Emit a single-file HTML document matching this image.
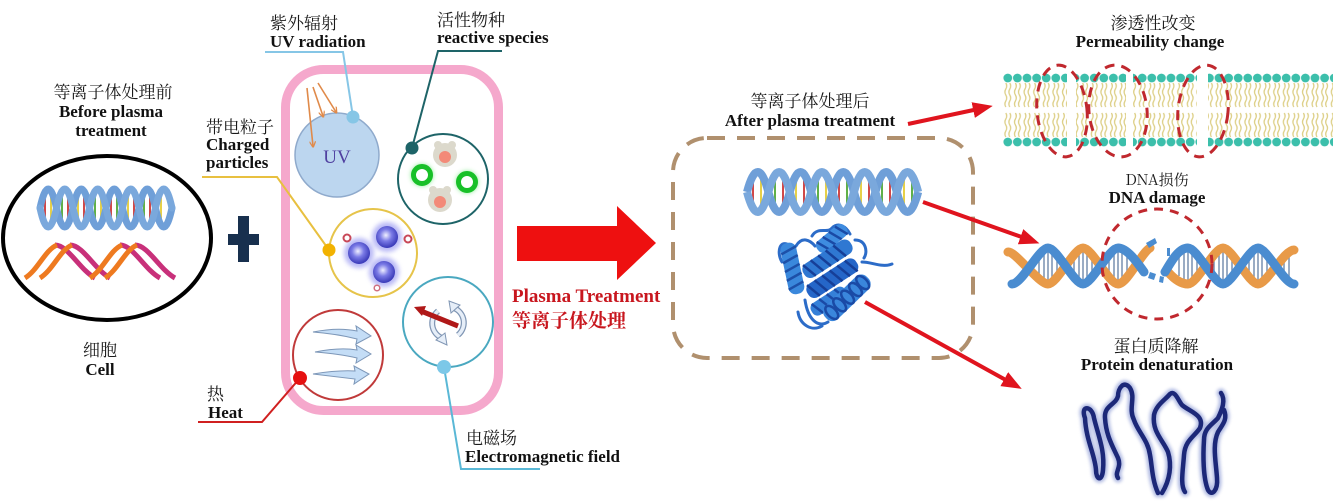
<!DOCTYPE html>
<html><head><meta charset="utf-8">
<style>
html,body{margin:0;padding:0;background:#fff;}
svg{display:block}
.cn{font-family:"Liberation Serif","Noto Serif CJK SC",serif;font-size:17px;fill:#1a1a1a}
.en{font-family:"Liberation Serif","Noto Serif CJK SC",serif;font-size:17px;font-weight:bold;fill:#111}
.red{fill:#c8161e}
</style></head><body>
<svg width="1333" height="504" viewBox="0 0 1333 504" xmlns="http://www.w3.org/2000/svg">
<defs>
 <radialGradient id="sph" cx="0.45" cy="0.42" r="0.6">
   <stop offset="0" stop-color="#f0f0ff"/>
   <stop offset="0.45" stop-color="#7a7ae6"/>
   <stop offset="1" stop-color="#3434b4"/>
 </radialGradient>
 <filter id="blur2" x="-50%" y="-50%" width="200%" height="200%"><feGaussianBlur stdDeviation="2.5"/></filter>
 <filter id="blur1" x="-20%" y="-20%" width="140%" height="140%"><feGaussianBlur stdDeviation="1.5"/></filter>
 <pattern id="mem" patternUnits="userSpaceOnUse" x="1003" y="70" width="9.6" height="80">
   <path d="M2.8,13 q1.8,3 0,6 t0,6 t0,6 t0,6 M6.8,13 q1.8,3 0,6 t0,6 t0,6 t0,6 M2.8,43 q1.8,3 0,6 t0,6 t0,6 t0,6 M6.8,43 q1.8,3 0,6 t0,6 t0,6 t0,6" stroke="#ddcf86" fill="none" stroke-width="1.3"/>
   <circle cx="4.8" cy="8" r="4.4" fill="#3cbfab"/>
   <circle cx="4.8" cy="72" r="4.4" fill="#3cbfab"/>
 </pattern>
 <marker id="ah" markerWidth="5" markerHeight="4" refX="2.5" refY="2" orient="auto" markerUnits="strokeWidth">
   <path d="M0,0 L5,2 L0,4z" fill="#e0141e"/>
 </marker>
 <marker id="oh" markerWidth="4" markerHeight="4" refX="3" refY="2" orient="auto" markerUnits="strokeWidth">
   <path d="M0,0 L4,2 L0,4" fill="none" stroke="#e08a4a" stroke-width="0.8"/>
 </marker>
</defs>

<!-- ===== LEFT: cell ===== -->
<text class="cn" x="113" y="98" text-anchor="middle">等离子体处理前</text>
<text class="en" x="111" y="117" text-anchor="middle">Before plasma</text>
<text class="en" x="111" y="136" text-anchor="middle">treatment</text>

<ellipse cx="107" cy="238" rx="104" ry="82" fill="#fff" stroke="#000" stroke-width="4"/>

<!-- blue helix -->
<g fill="none" stroke-linecap="round">
  <g stroke-width="2">
    <line x1="45" y1="198" x2="45" y2="218" stroke="#d04848"/>
    <line x1="51" y1="193" x2="51" y2="223" stroke="#e6d048"/>
    <line x1="62" y1="193" x2="62" y2="223" stroke="#60b048"/>
    <line x1="68" y1="198" x2="68" y2="218" stroke="#d04848"/>
    <line x1="78" y1="198" x2="78" y2="218" stroke="#e6d048"/>
    <line x1="84" y1="193" x2="84" y2="223" stroke="#d04848"/>
    <line x1="95" y1="193" x2="95" y2="223" stroke="#60b048"/>
    <line x1="101" y1="198" x2="101" y2="218" stroke="#e6d048"/>
    <line x1="111" y1="198" x2="111" y2="218" stroke="#d04848"/>
    <line x1="117" y1="193" x2="117" y2="223" stroke="#60b048"/>
    <line x1="128" y1="193" x2="128" y2="223" stroke="#e6d048"/>
    <line x1="134" y1="198" x2="134" y2="218" stroke="#d04848"/>
    <line x1="144" y1="198" x2="144" y2="218" stroke="#60b048"/>
    <line x1="150" y1="193" x2="150" y2="223" stroke="#d04848"/>
    <line x1="161" y1="193" x2="161" y2="223" stroke="#e6d048"/>
  </g>
  <path d="M40,208 q8.25,-38 16.5,0 t16.5,0 t16.5,0 t16.5,0 t16.5,0 t16.5,0 t16.5,0 t16.5,0" stroke="#6f9fd8" stroke-width="7"/>
  <path d="M40,208 q8.25,38 16.5,0 t16.5,0 t16.5,0 t16.5,0 t16.5,0 t16.5,0 t16.5,0 t16.5,0" stroke="#7aa8dc" stroke-width="7"/>
</g>
<!-- orange / magenta helix -->
<g fill="none" stroke-width="5" stroke-linecap="butt">
  <path d="M55,245 C68,245 80,270 95,278" stroke="#c8307a"/>
  <path d="M70,245 C83,245 95,270 110,278" stroke="#c8307a"/>
  <path d="M120,245 C133,245 145,270 160,278" stroke="#c8307a"/>
  <path d="M135,245 C148,245 160,270 175,278" stroke="#c8307a"/>
  <path d="M25,278 C38,270 45,250 57,245" stroke="#ee7a20"/>
  <path d="M40,278 C53,270 60,250 72,245" stroke="#ee7a20"/>
  <path d="M90,278 C103,270 110,250 122,245" stroke="#ee7a20"/>
  <path d="M105,278 C118,270 125,250 137,245" stroke="#ee7a20"/>
</g>

<text class="cn" x="100" y="356" text-anchor="middle">细胞</text>
<text class="en" x="100" y="375" text-anchor="middle">Cell</text>

<!-- plus -->
<rect x="238" y="216" width="11" height="46" fill="#18304e"/>
<rect x="228" y="234" width="31" height="11" fill="#18304e"/>

<!-- ===== MIDDLE: plasma components ===== -->
<rect x="285.5" y="69.5" width="213" height="341" rx="38" fill="none" stroke="#f5a8cc" stroke-width="9"/>

<!-- UV -->
<circle cx="337" cy="155" r="42" fill="#bcd6ef" stroke="#8faacc" stroke-width="1.5"/>
<text x="337" y="163" text-anchor="middle" font-family="Liberation Serif, serif" font-size="19" fill="#5040a0">UV</text>
<g stroke="#e08a4a" stroke-width="1.6" fill="none">
  <line x1="307" y1="88" x2="313" y2="146" marker-end="url(#oh)"/>
  <line x1="313" y1="87" x2="323" y2="116" marker-end="url(#oh)"/>
  <line x1="318" y1="83" x2="336" y2="112" marker-end="url(#oh)"/>
</g>

<!-- reactive species -->
<circle cx="443" cy="179" r="45" fill="#fff" stroke="#1e6468" stroke-width="2"/>
<g>
  <circle cx="422" cy="175" r="11" fill="#40e050" filter="url(#blur2)" opacity="0.6"/>
  <circle cx="422" cy="175" r="8.5" fill="#fff" stroke="#18c028" stroke-width="5"/>
  <circle cx="467" cy="182" r="11" fill="#40e050" filter="url(#blur2)" opacity="0.6"/>
  <circle cx="467" cy="182" r="8.5" fill="#fff" stroke="#18c028" stroke-width="5"/>
  <circle cx="445" cy="155" r="12" fill="#dcd9cc"/>
  <circle cx="438" cy="145" r="4" fill="#dcd9cc"/><circle cx="452" cy="145" r="4" fill="#dcd9cc"/>
  <circle cx="445" cy="157" r="6" fill="#f38a78"/>
  <circle cx="440" cy="200" r="12" fill="#dcd9cc"/>
  <circle cx="433" cy="190" r="4" fill="#dcd9cc"/><circle cx="447" cy="190" r="4" fill="#dcd9cc"/>
  <circle cx="440" cy="202" r="6" fill="#f38a78"/>
</g>

<!-- charged particles -->
<circle cx="373" cy="253" r="44" fill="#fff" stroke="#e6c44a" stroke-width="2"/>
<g>
  <circle cx="359" cy="253" r="15" fill="#8a8af0" filter="url(#blur2)" opacity="0.6"/>
  <circle cx="387" cy="237" r="15" fill="#8a8af0" filter="url(#blur2)" opacity="0.6"/>
  <circle cx="384" cy="272" r="15" fill="#8a8af0" filter="url(#blur2)" opacity="0.6"/>
  <circle cx="359" cy="253" r="11" fill="url(#sph)"/>
  <circle cx="387" cy="237" r="11" fill="url(#sph)"/>
  <circle cx="384" cy="272" r="11" fill="url(#sph)"/>
  <circle cx="347" cy="238" r="3.5" fill="#fff" stroke="#c84858" stroke-width="2"/>
  <circle cx="408" cy="239" r="3.5" fill="#fff" stroke="#c84858" stroke-width="2"/>
  <circle cx="377" cy="288" r="2.8" fill="#fff" stroke="#d07080" stroke-width="1.5"/>
</g>

<!-- heat -->
<circle cx="338" cy="355" r="45" fill="#fff" stroke="#c03a3a" stroke-width="2"/>
<g fill="#c4ddf6" stroke="#7d97b8" stroke-width="1">
  <path transform="translate(313,332)" d="M0,0 Q25,-5 44,-1 L43,-6 L58,4 L43,12 L44,7 Q25,2 0,0 Z"/>
  <path transform="translate(315,352)" d="M0,0 Q25,-5 42,-2 L41,-7 L56,2 L41,11 L42,6 Q25,2 0,0 Z"/>
  <path transform="translate(313,374)" d="M0,0 Q25,-4 42,-3 L41,-8 L56,0 L41,10 L42,5 Q25,3 0,0 Z"/>
</g>

<!-- electromagnetic -->
<circle cx="448" cy="322" r="45" fill="#fff" stroke="#4aa8c0" stroke-width="2"/>
<g fill="none">
  <path d="M451,307 A16,16 0 0 1 458,335" stroke="#8096b4" stroke-width="6"/>
  <path d="M451,307 A16,16 0 0 1 458,335" stroke="#e6eef8" stroke-width="3.5"/>
  <path d="M445,339 A16,16 0 0 1 438,311" stroke="#8096b4" stroke-width="6"/>
  <path d="M445,339 A16,16 0 0 1 438,311" stroke="#e6eef8" stroke-width="3.5"/>
</g>
<path d="M449,301 L460,305 L451,313 Z" fill="#e6eef8" stroke="#8096b4" stroke-width="1"/>
<path d="M447,345 L436,340 L445,333 Z" fill="#e6eef8" stroke="#8096b4" stroke-width="1"/>
<line x1="421" y1="311" x2="458" y2="326" stroke="#b01818" stroke-width="5"/>
<path d="M414,307 L426,306 L422,316 Z" fill="#b01818"/>

<!-- connectors -->
<polyline points="265,52 343,52 353,117" fill="none" stroke="#86c6e6" stroke-width="2"/>
<circle cx="353" cy="117" r="6.5" fill="#86c6e6"/>
<polyline points="502,51 438,51 412,148" fill="none" stroke="#1e6468" stroke-width="2"/>
<circle cx="412" cy="148" r="6.5" fill="#1e6468"/>
<polyline points="202,177 277,177 329,250" fill="none" stroke="#e8c040" stroke-width="2"/>
<circle cx="329" cy="250" r="6.5" fill="#f2b200"/>
<polyline points="198,422 262,422 300,378" fill="none" stroke="#d02020" stroke-width="2"/>
<circle cx="300" cy="378" r="7" fill="#e61010"/>
<polyline points="444,367 461,469 540,469" fill="none" stroke="#5ab8d6" stroke-width="2"/>
<circle cx="444" cy="367" r="7" fill="#7cc8e8"/>

<!-- labels middle -->
<text class="cn" x="270" y="29">紫外辐射</text>
<text class="en" x="270" y="47">UV radiation</text>
<text class="cn" x="437" y="26">活性物种</text>
<text class="en" x="437" y="43">reactive species</text>
<text class="cn" x="206" y="133">带电粒子</text>
<text class="en" x="206" y="150">Charged</text>
<text class="en" x="206" y="168">particles</text>
<text class="cn" x="207" y="400">热</text>
<text class="en" x="208" y="418">Heat</text>
<text class="cn" x="466" y="444">电磁场</text>
<text class="en" x="465" y="462">Electromagnetic field</text>

<!-- big arrow -->
<polygon points="517,226 617,226 617,206 656,243 617,280 617,261 517,261" fill="#ee1010"/>
<text x="512" y="302" font-family="Liberation Serif, serif" font-size="19" font-weight="bold" class="red">Plasma Treatment</text>
<text x="512" y="327" font-family="Liberation Serif, 'Noto Serif CJK SC', serif" font-size="19" font-weight="bold" class="red">等离子体处理</text>

<!-- ===== AFTER ===== -->
<text class="cn" x="810" y="107" text-anchor="middle">等离子体处理后</text>
<text class="en" x="810" y="126" text-anchor="middle">After plasma treatment</text>
<rect x="673" y="138" width="300" height="220" rx="34" fill="none" stroke="#b0906e" stroke-width="4" stroke-dasharray="18 12"/>

<!-- DNA in box -->
<g fill="none">
  <g stroke-width="2">
    <line x1="753" y1="180" x2="753" y2="204" stroke="#d04848"/>
    <line x1="761" y1="175" x2="761" y2="209" stroke="#e6d048"/>
    <line x1="775" y1="175" x2="775" y2="209" stroke="#60b048"/>
    <line x1="783" y1="180" x2="783" y2="204" stroke="#d04848"/>
    <line x1="796" y1="180" x2="796" y2="204" stroke="#e6d048"/>
    <line x1="804" y1="175" x2="804" y2="209" stroke="#d04848"/>
    <line x1="818" y1="175" x2="818" y2="209" stroke="#60b048"/>
    <line x1="826" y1="180" x2="826" y2="204" stroke="#e6d048"/>
    <line x1="839" y1="180" x2="839" y2="204" stroke="#d04848"/>
    <line x1="847" y1="175" x2="847" y2="209" stroke="#60b048"/>
    <line x1="861" y1="175" x2="861" y2="209" stroke="#e6d048"/>
    <line x1="869" y1="180" x2="869" y2="204" stroke="#d04848"/>
    <line x1="882" y1="180" x2="882" y2="204" stroke="#60b048"/>
    <line x1="890" y1="175" x2="890" y2="209" stroke="#d04848"/>
    <line x1="904" y1="175" x2="904" y2="209" stroke="#e6d048"/>
    <line x1="912" y1="180" x2="912" y2="204" stroke="#60b048"/>
  </g>
  <path d="M747,192 q10.7,-40 21.4,0 t21.4,0 t21.4,0 t21.4,0 t21.4,0 t21.4,0 t21.4,0 t21.4,0" stroke="#6f9fd8" stroke-width="8"/>
  <path d="M747,192 q10.7,40 21.4,0 t21.4,0 t21.4,0 t21.4,0 t21.4,0 t21.4,0 t21.4,0 t21.4,0" stroke="#7aa8dc" stroke-width="8"/>
</g>

<!-- protein -->
<g fill="none" stroke="#2c6cc8" stroke-width="3" stroke-linecap="round">
  <path d="M790,246 C780,238 776,252 782,262"/>
  <path d="M798,312 C800,325 812,332 822,326"/>
  <path d="M805,300 C808,320 818,328 828,322"/>
  <path d="M862,262 C872,262 882,268 892,264"/>
  <path d="M812,236 C818,226 828,234 832,228 C838,222 846,226 850,234"/>
  <path d="M796,246 C802,236 810,240 815,246"/>
  <path d="M855,240 C866,240 868,252 864,258"/>
</g>
<g>
  <g transform="translate(787,243) rotate(78)"><rect x="0" y="-8" width="52" height="16" rx="7" fill="#3a88dc"/><path d="M5,-8 l5,16 M14,-8 l5,16 M23,-8 l5,16 M32,-8 l5,16 M41,-8 l5,16" stroke="#1d50a8" stroke-width="2.5"/></g>
  <g transform="translate(818,250) rotate(-40)"><rect x="0" y="-7" width="36" height="14" rx="6" fill="#3e8ce0"/><path d="M4,-7 l5,14 M12,-7 l5,14 M20,-7 l5,14 M28,-7 l5,14" stroke="#1a4aa6" stroke-width="2.5"/></g>
  <g transform="translate(804,274) rotate(-33)"><rect x="0" y="-8" width="56" height="16" rx="7" fill="#2f78d2"/><path d="M4,-8 l5,16 M13,-8 l5,16 M22,-8 l5,16 M31,-8 l5,16 M40,-8 l5,16" stroke="#163f98" stroke-width="2.5"/></g>
  <g transform="translate(808,294) rotate(-33)"><rect x="0" y="-8" width="58" height="16" rx="7" fill="#2566c8"/><path d="M4,-8 l5,16 M13,-8 l5,16 M22,-8 l5,16 M31,-8 l5,16 M40,-8 l5,16 M49,-8 l5,16" stroke="#163f98" stroke-width="2.5"/></g>
  <g transform="translate(812,312) rotate(-33)"><rect x="0" y="-7" width="40" height="14" rx="6" fill="#3580d8"/><path d="M4,-7 l5,14 M13,-7 l5,14 M22,-7 l5,14 M31,-7 l5,14" stroke="#1a4aa6" stroke-width="2.5"/></g>
  <g transform="translate(826,318) rotate(-44)"><rect x="0" y="-9" width="58" height="18" rx="8" fill="#3a86dc"/><g fill="none" stroke="#1a4aa6" stroke-width="2.5"><ellipse cx="8" cy="0" rx="4.5" ry="8"/><ellipse cx="19" cy="0" rx="4.5" ry="8"/><ellipse cx="30" cy="0" rx="4.5" ry="8"/><ellipse cx="41" cy="0" rx="4.5" ry="8"/><ellipse cx="51" cy="0" rx="4.5" ry="8"/></g></g>
</g>

<!-- red arrows right -->
<g stroke="#e0141e" stroke-width="4" fill="none">
  <line x1="908" y1="124" x2="983" y2="108" marker-end="url(#ah)"/>
  <line x1="923" y1="202" x2="1030" y2="240" marker-end="url(#ah)"/>
  <line x1="865" y1="302" x2="1013" y2="384" marker-end="url(#ah)"/>
</g>

<!-- ===== RIGHT: membrane ===== -->
<text class="cn" x="1153" y="29" text-anchor="middle">渗透性改变</text>
<text class="en" x="1150" y="47" text-anchor="middle">Permeability change</text>
<rect x="1003" y="70" width="64" height="80" fill="url(#mem)"/>
<rect x="1076" y="70" width="50" height="80" fill="url(#mem)"/>
<rect x="1133" y="70" width="64" height="80" fill="url(#mem)"/>
<rect x="1208" y="70" width="125" height="80" fill="url(#mem)"/>
<g fill="none" stroke="#c0282e" stroke-width="3" stroke-dasharray="10 7">
  <ellipse cx="1062" cy="111" rx="25" ry="46" transform="rotate(-6 1062 111)"/>
  <ellipse cx="1118" cy="111" rx="29" ry="46" transform="rotate(-6 1118 111)"/>
  <ellipse cx="1203" cy="111" rx="25" ry="46" transform="rotate(6 1203 111)"/>
</g>

<!-- DNA damage -->
<text x="1157" y="185" text-anchor="middle" font-family="'Noto Serif CJK SC', serif" font-size="15" fill="#1a1a1a">DNA损伤</text>
<text class="en" x="1157" y="203" text-anchor="middle">DNA damage</text>
<g stroke="#7890b0" stroke-width="1.5">
  <path d="M1039,256 v20 M1044,253 v26 M1048,252 v28 M1052,253 v26 M1057,256 v20
           M1074,256 v20 M1079,253 v26 M1083,252 v28 M1087,253 v26 M1092,256 v20
           M1109,256 v20 M1114,253 v26 M1118,252 v28 M1122,253 v26 M1127,256 v20
           M1179,256 v20 M1184,253 v26 M1188,252 v28 M1192,253 v26 M1197,256 v20
           M1214,256 v20 M1219,253 v26 M1223,252 v28 M1227,253 v26 M1232,256 v20
           M1249,256 v20 M1254,253 v26 M1258,252 v28 M1262,253 v26 M1267,256 v20
           M1284,256 v20 M1289,253 v26"/>
</g>
<g fill="none" stroke-width="9" stroke-linecap="round">
  <path d="M1008,252 C1014,250 1039,284 1048,284 C1057,284 1074,248 1083,248 C1092,248 1109,284 1118,284 C1127,284 1142,252 1150,248" stroke="#e89a48"/>
  <path d="M1168,272 C1175,280 1182,284 1188,284 C1197,284 1214,248 1223,248 C1232,248 1249,284 1258,284 C1267,284 1284,250 1294,250" stroke="#e89a48"/>
  <path d="M1012,284 C1022,284 1039,248 1048,248 C1057,248 1074,284 1083,284 C1092,284 1109,248 1118,248 C1127,248 1137,262 1144,272" stroke="#4a8cd0"/>
  <path d="M1165,272 C1172,260 1179,248 1188,248 C1197,248 1214,284 1223,284 C1232,284 1249,248 1258,248 C1267,248 1284,284 1294,284" stroke="#4a8cd0"/>
</g>
<g fill="#4a8cd0">
  <path d="M1146,243 l9,-5 l2,5 l-8,5 z"/>
  <path d="M1150,272 l6,2 l-2,6 l-6,-2 z"/>
  <path d="M1160,276 l4,1 l-1,6 l-4,-1 z"/>
  <path d="M1167,248 l3,0 l0,8 l-3,0 z"/>
</g>
<circle cx="1157" cy="264" r="55" fill="none" stroke="#c0282e" stroke-width="3" stroke-dasharray="9 7"/>

<!-- protein denaturation -->
<text class="cn" x="1156" y="352" text-anchor="middle">蛋白质降解</text>
<text class="en" x="1157" y="370" text-anchor="middle">Protein denaturation</text>
<g fill="none" stroke-linecap="round" stroke-linejoin="round">
  <g stroke="#8090d0" stroke-width="9" filter="url(#blur1)" opacity="0.6">
    <path d="M1085,418 C1080,405 1092,405 1094,418 C1098,435 1105,450 1103,470 C1102,482 1096,480 1096,470 C1095,455 1086,440 1085,418"/>
    <path d="M1158,493 C1152,480 1152,465 1150,455 C1148,440 1138,432 1134,420 C1128,408 1136,398 1130,388 C1124,380 1118,388 1118,396 C1116,405 1104,405 1105,418 C1106,435 1112,445 1118,458 C1122,468 1114,472 1118,478"/>
    <path d="M1162,493 C1170,480 1172,465 1168,452 C1163,440 1152,432 1154,415 C1156,405 1165,400 1170,394 C1175,390 1178,400 1182,405 C1190,412 1205,415 1200,428 C1195,436 1185,440 1184,455 C1183,470 1180,485 1185,492"/>
    <path d="M1221,393 C1226,400 1222,410 1218,418 C1212,425 1204,428 1204,440 C1203,455 1203,478 1208,490 C1212,497 1218,490 1217,478 C1216,462 1212,445 1218,432 C1222,425 1228,420 1224,410"/>
  </g>
  <g stroke="#1c2878" stroke-width="4.5">
    <path d="M1085,418 C1080,405 1092,405 1094,418 C1098,435 1105,450 1103,470 C1102,482 1096,480 1096,470 C1095,455 1086,440 1085,418"/>
    <path d="M1158,493 C1152,480 1152,465 1150,455 C1148,440 1138,432 1134,420 C1128,408 1136,398 1130,388 C1124,380 1118,388 1118,396 C1116,405 1104,405 1105,418 C1106,435 1112,445 1118,458 C1122,468 1114,472 1118,478"/>
    <path d="M1162,493 C1170,480 1172,465 1168,452 C1163,440 1152,432 1154,415 C1156,405 1165,400 1170,394 C1175,390 1178,400 1182,405 C1190,412 1205,415 1200,428 C1195,436 1185,440 1184,455 C1183,470 1180,485 1185,492"/>
    <path d="M1221,393 C1226,400 1222,410 1218,418 C1212,425 1204,428 1204,440 C1203,455 1203,478 1208,490 C1212,497 1218,490 1217,478 C1216,462 1212,445 1218,432 C1222,425 1228,420 1224,410"/>
  </g>
</g>
</svg>
</body></html>
